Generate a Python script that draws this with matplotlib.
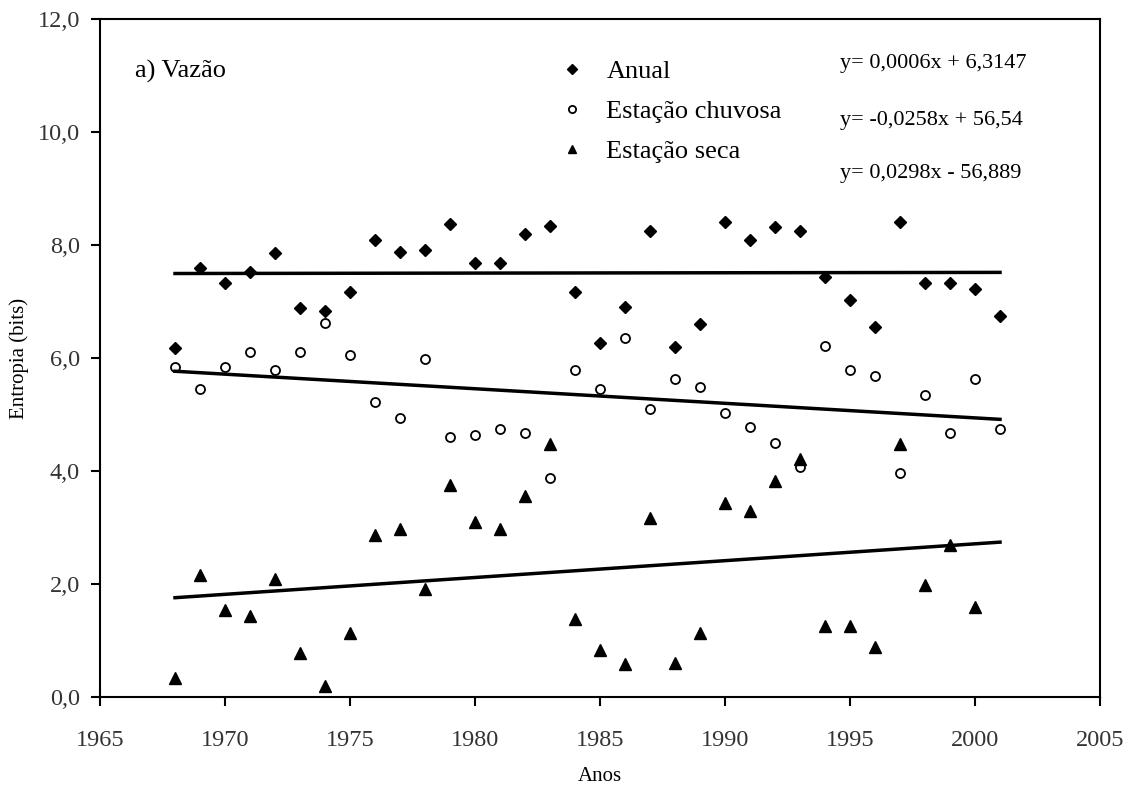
import numpy as np
import matplotlib
matplotlib.use("Agg")
import matplotlib.pyplot as plt
from matplotlib.ticker import FuncFormatter

years = list(range(1968, 2002))

anual = [6.18, 7.60, 7.33, 7.53, 7.86, 6.89, 6.84, 7.16, 8.09, 7.88,
         7.91, 8.37, 7.69, 7.69, 8.19, 8.34, 7.16, 6.27, 6.91, 8.24,
         6.20, 6.60, 8.41, 8.09, 8.31, 8.24, 7.44, 7.03, 6.55, 8.41,
         7.33, 7.33, 7.22, 6.75]

chuvosa = [5.84, 5.45, 5.84, 6.10, 5.79, 6.10, 6.62, 6.05, 5.23, 4.93,
           5.99, 4.61, 4.63, 4.74, 4.67, 3.88, 5.79, 5.45, 6.35, 5.10,
           5.63, 5.49, 5.02, 4.78, 4.50, 4.07, 6.21, 5.79, 5.68, 3.96,
           5.35, 4.67, 5.62, 4.74]

seca = [0.33, 2.16, 1.54, 1.43, 2.08, 0.77, 0.19, 1.14, 2.87, 2.97,
        1.92, 3.76, 3.09, 2.97, 3.55, 4.47, 1.38, 0.83, 0.58, 3.16,
        0.60, 1.14, 3.43, 3.30, 3.83, 4.21, 1.26, 1.26, 0.89, 4.47,
        1.98, 2.69, 1.59, np.nan]

# trend line coefficients (slope, intercept) as printed on the chart
trend_anual = (0.0006, 6.3147)
trend_chuvosa = (-0.0258, 56.54)
trend_seca = (0.0298, -56.889)

labels = ["Anual", "Estação chuvosa", "Estação seca"]
equations = ["y= 0,0006x + 6,3147", "y= -0,0258x + 56,54", "y= 0,0298x - 56,889"]

plt.rcParams['font.family'] = ['Liberation Serif', 'DejaVu Serif']

fig = plt.figure(figsize=(11.34, 7.96), dpi=100)
ax = fig.add_axes([100/1134, 99/796, 1000/1134, 678/796])

yr = np.array(years)
ax.plot(yr, anual, linestyle='none', marker='D', markersize=6, color='black',
        label=labels[0])
ax.plot(yr, chuvosa, linestyle='none', marker='o', markersize=6.5, markerfacecolor='white',
        markeredgecolor='black', markeredgewidth=1.3, label=labels[1])
ax.plot(yr, seca, linestyle='none', marker='^', markersize=8, color='black',
        label=labels[2])

xl = np.array([years[0], years[-1]])
for (m, b) in (trend_anual, trend_chuvosa, trend_seca):
    ax.plot(xl, m * xl + b, color='black', linewidth=2.5)

ax.set_xlim(1965, 2005)
ax.set_ylim(0, 12)
ax.set_xticks(np.arange(1965, 2006, 5))
ax.set_yticks(np.arange(0, 12.1, 2))
ax.yaxis.set_major_formatter(FuncFormatter(lambda v, p: f"{v:.1f}".replace('.', ',')))
ax.tick_params(direction='out', length=6.5, width=1.5, labelsize=17.5, colors='black',
               labelcolor='#333333', top=False, right=False)
ax.tick_params(axis='x', pad=17)
ax.tick_params(axis='y', pad=8)
for s in ax.spines.values():
    s.set_linewidth(1.5)

ax.set_xlabel("Anos", fontsize=15, labelpad=12)
ax.set_ylabel("Entropia (bits)", fontsize=15, labelpad=6)

ax.text(0.035, 0.922, "a) Vazão", transform=ax.transAxes, fontsize=19, va='center')

leg = ax.legend(loc='upper left', bbox_to_anchor=(0.435, 0.975), frameon=False,
                fontsize=19, handletextpad=0.8, labelspacing=0.62, markerscale=0.8,
                handlelength=1.0)

eq_y = [0.935, 0.85, 0.772]
for e, yy in zip(equations, eq_y):
    ax.text(0.74, yy, e, transform=ax.transAxes, fontsize=16, va='center')

fig.savefig("out.png", dpi=100)
